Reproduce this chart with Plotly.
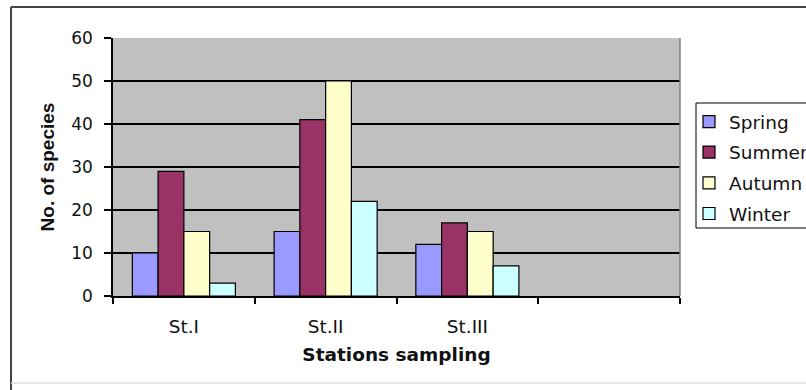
import plotly.graph_objects as go

# Number of species recorded at each station, by season
stations = ["St.I", "St.II", "St.III"]
spring = [10, 15, 12]
summer = [29, 41, 17]
autumn = [15, 50, 15]
winter = [3, 22, 7]

series = [
    ("Spring", spring, "#9999FF"),
    ("Summer", summer, "#993366"),
    ("Autumn", autumn, "#FFFFCC"),
    ("Winter", winter, "#CCFFFF"),
]

W, H = 806, 390
L, R, T, B = 113, 126, 38, 94
PW, PH = W - L - R, H - T - B

def px_x(p):
    return (p - L) / PW

def px_y(p):
    return (H - B - p) / PH

FONT = "DejaVu Sans, Verdana, sans-serif"
TITLE_FONT = "Liberation Sans, Arial, sans-serif"
pos = list(range(len(stations)))

fig = go.Figure()
for i, (name, vals, col) in enumerate(series):
    fig.add_trace(go.Bar(
        x=pos, y=vals, name=name, legendgroup=name,
        marker=dict(color=col, line=dict(color="black", width=1.2)),
    ))

fig.update_layout(
    width=W, height=H,
    margin=dict(l=L, r=R, t=T, b=B, autoexpand=False),
    paper_bgcolor="white",
    plot_bgcolor="#C0C0C0",
    barmode="group",
    bargap=0.273,
    bargroupgap=0,
    font=dict(family=FONT, color="#111111", size=17),
    legend=dict(
        x=px_x(689), y=px_y(103), xanchor="left", yanchor="top",
        bgcolor="rgba(0,0,0,0)", borderwidth=0,
        font=dict(size=18.5), tracegroupgap=3.6,
    ),
    xaxis=dict(
        range=[-0.5, 3.5],
        tickmode="array", tickvals=pos, ticktext=stations,
        tickfont=dict(size=18.5),
        ticks="", showgrid=False,
        showline=True, linecolor="black", linewidth=1.5,
        ticklabelstandoff=13,
        minor=dict(tickmode="array", tickvals=[-0.5, 0.5, 1.5, 2.5, 3.5],
                   ticks="outside", ticklen=6, tickwidth=1.5, tickcolor="black",
                   showgrid=False),
        title=dict(text="<b>Stations sampling</b>", font=dict(size=18.5), standoff=12),
        zeroline=False,
    ),
    yaxis=dict(
        range=[0, 60],
        tickmode="array", tickvals=[0, 10, 20, 30, 40, 50, 60],
        ticks="outside", ticklen=7, tickwidth=1.5, tickcolor="black",
        showgrid=False,
        showline=True, linecolor="black", linewidth=1.5,
        ticklabelstandoff=8,
        minor=dict(tickmode="array", tickvals=[10, 20, 30, 40, 50],
                   showgrid=True, gridcolor="black", gridwidth=1.5, ticks=""),
        title=dict(text="<b>No. of species</b>",
                   font=dict(size=19, family=TITLE_FONT), standoff=12),
        zeroline=False,
    ),
    shapes=[
        # right border of the plot area
        dict(type="line", xref="paper", yref="paper", x0=1, x1=1, y0=0, y1=1,
             line=dict(color="#808080", width=1.5)),
        # legend box
        dict(type="rect", xref="paper", yref="paper",
             x0=px_x(696), x1=px_x(830), y0=px_y(228), y1=px_y(103),
             line=dict(color="black", width=1), fillcolor="white", layer="above"),
        # outer chart frame
        dict(type="line", xref="paper", yref="paper",
             x0=px_x(11), x1=px_x(820), y0=px_y(7), y1=px_y(7),
             line=dict(color="#444444", width=2)),
        dict(type="line", xref="paper", yref="paper",
             x0=px_x(11), x1=px_x(11), y0=px_y(7), y1=px_y(390),
             line=dict(color="#444444", width=2)),
        dict(type="line", xref="paper", yref="paper",
             x0=px_x(11), x1=px_x(820), y0=px_y(383), y1=px_y(383),
             line=dict(color="#DDDDDD", width=1.5)),
    ],
)

fig.write_html("out.html")
